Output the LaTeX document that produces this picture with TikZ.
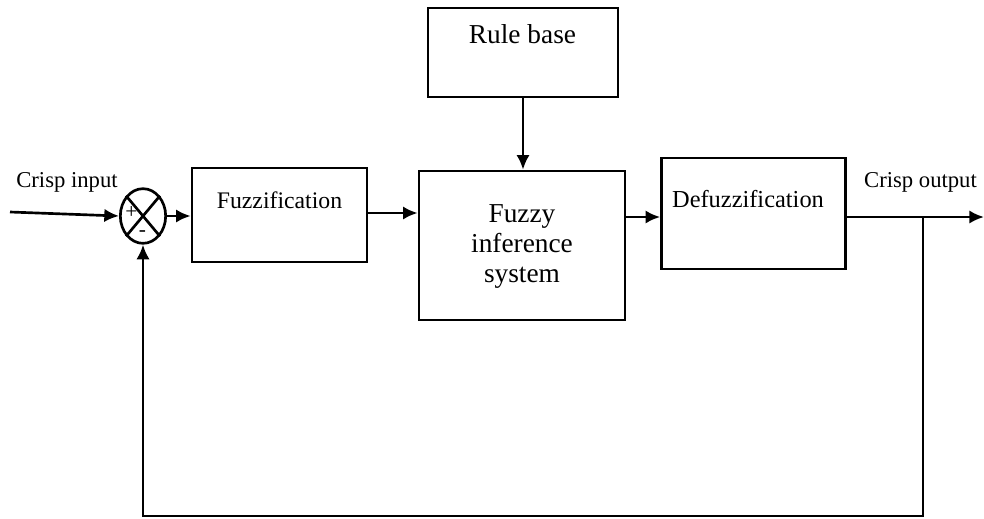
\documentclass[tikz,border=0pt]{standalone}
\usepackage{fontspec}
\setmainfont{Liberation Serif}
\usetikzlibrary{arrows.meta,shapes.geometric}
\begin{document}
\begin{tikzpicture}[x=0.75pt,y=-0.75pt,
  blk/.style={draw,line width=2pt,inner sep=0pt},
  lbl/.style={inner sep=0pt,anchor=base},
  sgn/.style={inner sep=0pt,font=\fontsize{16}{17}\selectfont},
  conn/.style={line width=2pt,-{Latex[length=11pt,width=10pt]}},
  wire/.style={line width=2pt}]
\useasboundingbox (0,0) rectangle (984,518);
% boxes
\node[blk,minimum width=142.5pt,minimum height=66.75pt] (rb) at (523,52.5) {};
\node[blk,minimum width=154.5pt,minimum height=111.75pt] (fis) at (522,245.5) {};
\node[blk,minimum width=131.25pt,minimum height=70.5pt] (fz) at (279.5,215) {};
\node[blk,minimum width=138pt,minimum height=83.25pt] (dfz) at (753.5,213.5) {};
% summing junction
\node[draw,line width=2pt,ellipse,minimum width=34pt,minimum height=41pt,inner sep=0pt] (sj) at (143,216) {};
\draw[wire] (sj.north west) -- (sj.south east);
\draw[wire] (sj.north east) -- (sj.south west);
\node[sgn] (plus) at (131.5,212.5) {+};
\node[sgn] (minus) at (142.5,234) {-};
% texts
\node[lbl,font=\fontsize{20.5}{22.5}\selectfont] (trb) at (522.5,43) {Rule base};
\node[lbl,font=\fontsize{17.8}{22}\selectfont] (tfz) at (279.5,208) {Fuzzification};
\node[lbl,font=\fontsize{18.3}{22}\selectfont] (tdfz) at (748,207) {Defuzzification};
\node[lbl,align=center,font=\fontsize{20.5}{22.5}\selectfont] (tfis) at (522,282.5) {Fuzzy\\inference\\system};
\node[lbl,font=\fontsize{17}{20}\selectfont] (tin) at (67,187) {Crisp input};
\node[lbl,font=\fontsize{17}{20}\selectfont] (tout) at (920.5,187) {Crisp output};
% coordinates
\coordinate (in) at (10,212);
\coordinate (out) at (984,217);
\coordinate (br) at (923,217);
\coordinate (bbr) at (923,516);
\coordinate (bbl) at (143,516);
% connectors
\draw[conn] (in) -- (sj.west);
\draw[conn] (sj.east) -- (fz.west |- sj.east);
\draw[conn] (fz.east |- 0,213) -- (fis.west |- 0,213);
\draw[conn] (rb.south) -- (rb.south |- fis.north);
\draw[conn] (fis.east |- 0,217) -- (dfz.west |- 0,217);
\draw[conn] (dfz.east |- 0,217) -- (out);
\draw[wire,line cap=rect] (br) -- (bbr) -- (bbl);
\draw[conn] (bbl) -- (sj.south);
\end{tikzpicture}
\end{document}
